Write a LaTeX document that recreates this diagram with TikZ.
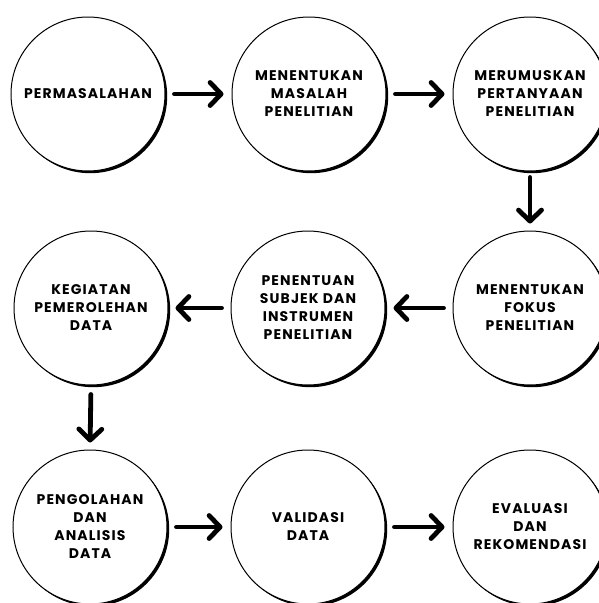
\documentclass[tikz,border=0pt]{standalone}
\usepackage{fontspec}
\setmainfont{Poppins}[BoldFont={Poppins Bold}, LetterSpace=8]
\usetikzlibrary{arrows.meta,shadows}
\begin{document}
\begin{tikzpicture}[x=1pt,y=1pt,
  stepcircle/.style={circle, draw=black, line width=1pt, fill=white,
    minimum size=154pt, inner sep=0pt, align=center,
    font=\fontsize{14}{18}\selectfont\bfseries,
    drop shadow={shadow xshift=2.2pt, shadow yshift=-2.2pt, fill=black, opacity=1}},
  flow/.style={line width=4.8pt, line cap=round,
    -{Straight Barb[length=11pt, width=23pt, round]}}
]
\useasboundingbox (0,0) rectangle (599,-603);
\node[stepcircle] (c1) at (88,-94) {PERMASALAHAN};
\node[stepcircle] (c2) at (309,-94) {MENENTUKAN\\MASALAH\\PENELITIAN};
\node[stepcircle] (c3) at (530,-94) {MERUMUSKAN\\PERTANYAAN\\PENELITIAN};
\node[stepcircle] (c4) at (91,-308) {KEGIATAN\\PEMEROLEHAN\\DATA};
\node[stepcircle] (c5) at (308,-308) {PENENTUAN\\SUBJEK DAN\\INSTRUMEN\\PENELITIAN};
\node[stepcircle] (c6) at (530,-308) {MENENTUKAN\\FOKUS\\PENELITIAN};
\node[stepcircle] (c7) at (90,-527) {PENGOLAHAN\\DAN\\ANALISIS\\DATA};
\node[stepcircle] (c8) at (308,-527) {VALIDASI\\DATA};
\node[stepcircle] (c9) at (530,-527) {EVALUASI\\DAN\\REKOMENDASI};
\draw[flow, shorten <=9pt, shorten >=8pt] (c1.east) -- (c2.west);
\draw[flow, shorten <=9pt, shorten >=8pt] (c2.east) -- (c3.west);
\draw[flow, shorten <=6pt, shorten >=7pt] (c3.south) -- (c6.north);
\draw[flow, shorten <=9pt, shorten >=8pt] (c6.west) -- (c5.east);
\draw[flow, shorten <=9pt, shorten >=7pt] (c5.west) -- (c4.east);
\draw[flow, shorten <=9pt, shorten >=7pt] (c4.south) -- (c7.north);
\draw[flow, shorten <=9pt, shorten >=8pt] (c7.east) -- (c8.west);
\draw[flow, shorten <=9pt, shorten >=8pt] (c8.east) -- (c9.west);
\end{tikzpicture}
\end{document}
